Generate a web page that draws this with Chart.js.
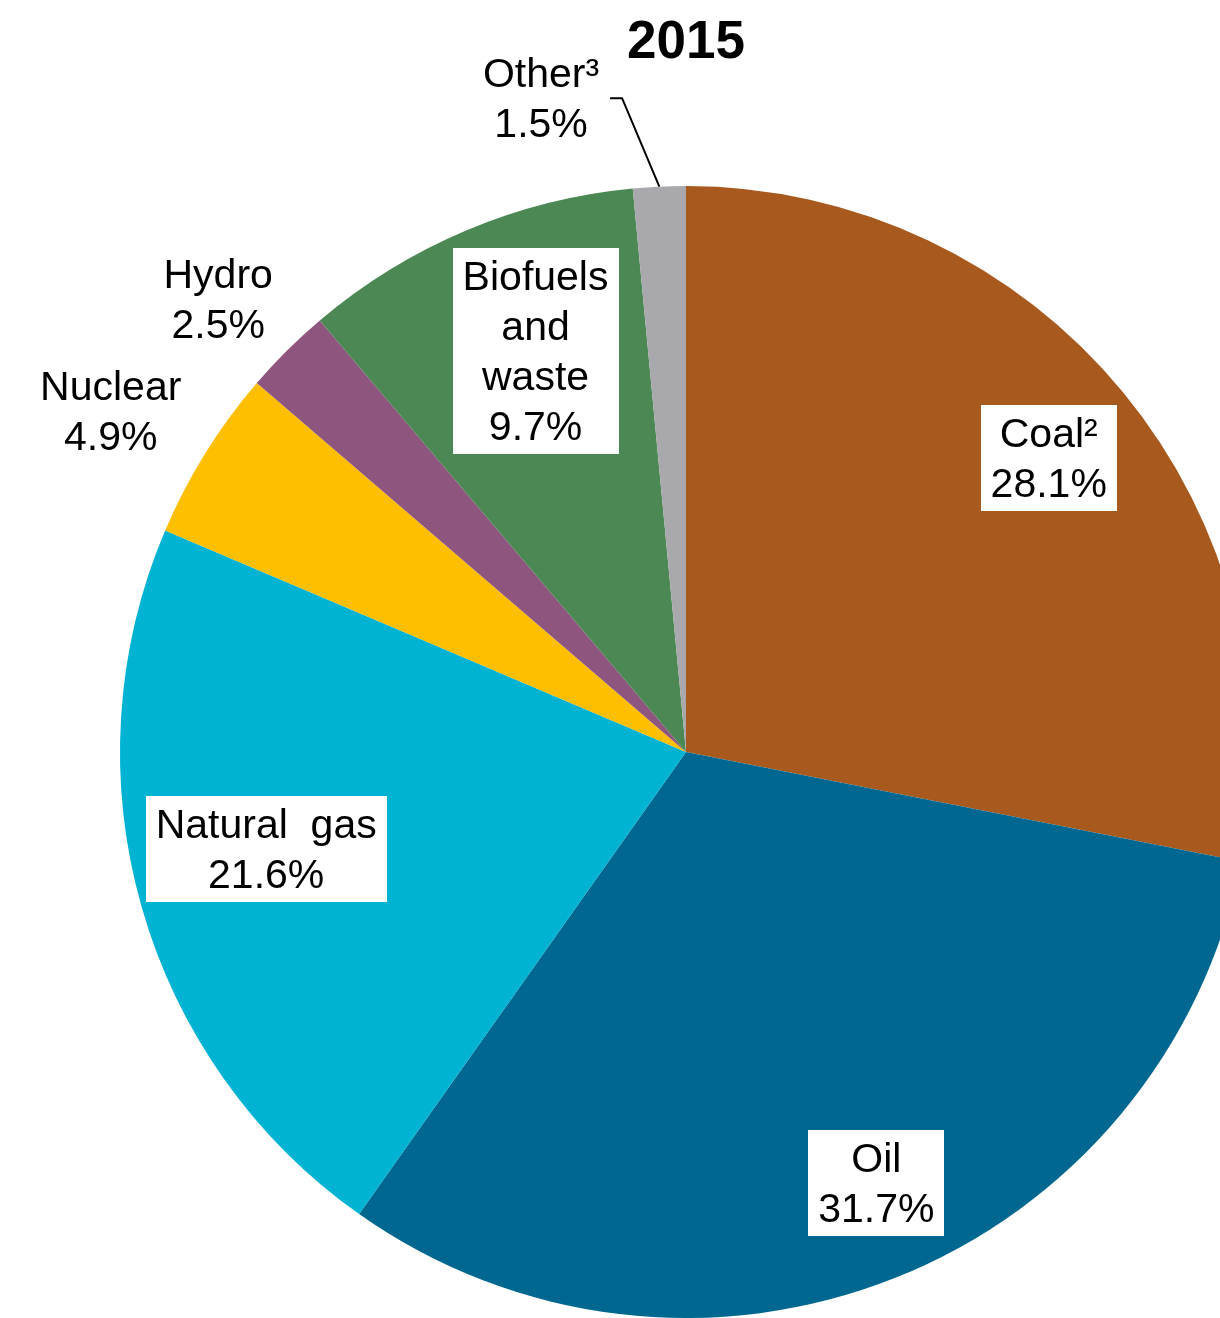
<!DOCTYPE html>
<html>
<head>
<meta charset="utf-8">
<script src="https://cdn.jsdelivr.net/npm/chart.js@4"></script>
<style>
  html, body { margin: 0; padding: 0; background: #fff; overflow: hidden; }
  #wrap { position: relative; width: 1220px; height: 1318px; overflow: hidden; }
  canvas { display: block; }
</style>
</head>
<body>
<div id="wrap"><canvas id="c" width="1372" height="1318"></canvas></div>
<script>
// ---- Data ----
const title = '2015';
const categories = ['Coal²', 'Oil', 'Natural gas', 'Nuclear', 'Hydro', 'Biofuels and waste', 'Other³'];
const shares = [28.1, 31.7, 21.6, 4.9, 2.5, 9.7, 1.5];
const labelLines = [['Coal²'], ['Oil'], ['Natural  gas'], ['Nuclear'], ['Hydro'], ['Biofuels', 'and', 'waste'], ['Other³']];
const colors = ['#A85A1E', '#006890', '#00B3D3', '#FEBF00', '#8E557F', '#4B8853', '#A8A8AD'];

// ---- Label styling (placement relative to each slice) ----
const labelStyle = [
  { f: 0.825, dx: 2,    dy: 3,   box: true },
  { f: 0.83,  dx: 16,   dy: -5,  box: true },
  { f: 0.76,  dx: -6,   dy: -20, box: true },
  { f: 1.18,  dx: -8,   dy: 12,  box: false },
  { f: 1.15,  dx: -9,   dy: 9,   box: false },
  { f: 0.757, dx: 16,   dy: -6,  box: true },
  { f: 1.16,  dx: -114, dy: 3,   box: false, leader: true }
];

const FONT = '41px "Liberation Sans", Arial, sans-serif';
const LINE_H = 50;

const labelPlugin = {
  id: 'sliceLabels',
  afterDatasetsDraw(chart) {
    const ctx = chart.ctx;
    const meta = chart.getDatasetMeta(0);
    ctx.save();
    ctx.font = FONT;
    ctx.textAlign = 'center';
    ctx.textBaseline = 'middle';
    meta.data.forEach((arc, i) => {
      const p = arc.getProps(['x', 'y', 'startAngle', 'endAngle', 'outerRadius'], true);
      const mid = (p.startAngle + p.endAngle) / 2;
      const st = labelStyle[i];
      const cx = p.x + Math.cos(mid) * p.outerRadius * st.f + st.dx;
      const cy = p.y + Math.sin(mid) * p.outerRadius * st.f + st.dy;
      const lines = labelLines[i].concat([shares[i].toFixed(1) + '%']);
      const h = lines.length * LINE_H;
      if (st.box) {
        let w = 0;
        lines.forEach(l => { w = Math.max(w, ctx.measureText(l).width); });
        ctx.fillStyle = '#ffffff';
        ctx.fillRect(Math.round(cx - w / 2 - 10), Math.round(cy - h / 2 - 3), Math.round(w + 20), Math.round(h + 6));
      }
      if (st.leader) {
        ctx.strokeStyle = '#000';
        ctx.lineWidth = 2;
        ctx.beginPath();
        ctx.moveTo(cx + 69, cy - 1);
        ctx.lineTo(cx + 81, cy - 1);
        ctx.lineTo(p.x + Math.cos(mid) * p.outerRadius, p.y + Math.sin(mid) * p.outerRadius);
        ctx.stroke();
      }
      ctx.fillStyle = '#000';
      lines.forEach((l, k) => {
        ctx.fillText(l, cx, cy - h / 2 + LINE_H * (k + 0.5) + 2);
      });
    });
    // title
    ctx.font = 'bold 53px "Liberation Sans", Arial, sans-serif';
    ctx.textBaseline = 'alphabetic';
    ctx.fillText(title, meta.data[0].x, 58);
    ctx.restore();
  }
};

new Chart(document.getElementById('c'), {
  type: 'pie',
  data: {
    labels: categories,
    datasets: [{
      data: shares,
      backgroundColor: colors,
      borderWidth: 0,
      hoverOffset: 0
    }]
  },
  options: {
    responsive: false,
    animation: false,
    layout: { padding: { top: 186, bottom: 0, left: 0, right: 0 } },
    plugins: {
      legend: { display: false },
      tooltip: { enabled: false },
      title: { display: false }
    },
    events: []
  },
  plugins: [labelPlugin]
});
</script>
</body>
</html>
